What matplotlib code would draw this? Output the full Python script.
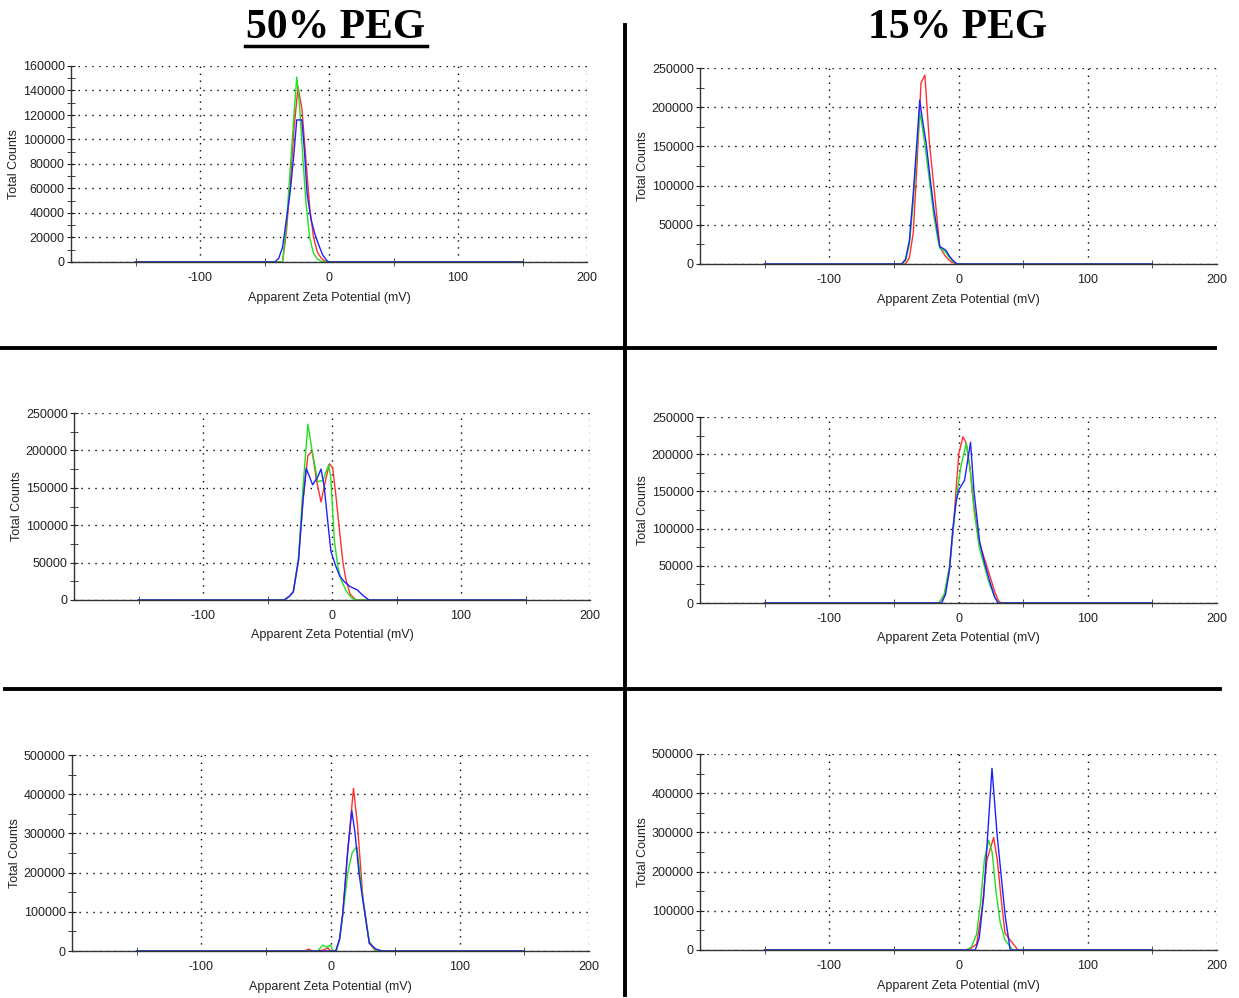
import matplotlib
matplotlib.use("Agg")
import matplotlib.pyplot as plt
from matplotlib.lines import Line2D
from matplotlib.ticker import MultipleLocator, FixedLocator

W, H = 1239, 998

# ---------------- data ----------------
# row 1, 50% PEG
a_red_x = [-150, -36, -33, -30, -27, -24, -21, -18, -15, -12, -9, -6, -3, -1, 150]
a_red_y = [0, 0, 25000, 65000, 110000, 143000, 125000, 85000, 45000, 20000, 8000, 3000, 500, 0, 0]
a_green_x = [-150, -36, -33, -30, -27.5, -25, -23, -21, -18, -15, -12, -9, -6, -3, 150]
a_green_y = [0, 0, 30000, 77000, 115000, 151000, 130000, 97000, 50000, 20000, 7000, 2500, 500, 0, 0]
a_blue_x = [-150, -42, -39, -36, -33, -30, -27.5, -25, -21, -19, -17, -14, -11, -8, -5, -2, 0, 150]
a_blue_y = [0, 0, 3000, 12000, 35000, 58000, 85000, 116000, 116000, 90000, 56000, 35000, 23000, 14000, 6000, 1500, 0, 0]

# row 1, 15% PEG
b_red_x = [-150, -41, -38, -35, -32, -29, -26, -22.5, -18.5, -14.5, -11, -8, -5, -1, 150]
b_red_y = [0, 0, 8000, 40000, 130000, 231000, 241000, 154000, 90000, 22000, 12000, 6000, 2000, 0, 0]
b_green_x = [-150, -44, -41, -38, -35, -32, -30, -28, -25, -22, -19, -16, -14.5, -12, -9.5, -7, -4, -1, 150]
b_green_y = [0, 0, 4000, 25000, 80000, 150000, 193000, 175000, 140000, 100000, 60000, 32000, 20000, 18000, 14000, 8000, 3000, 0, 0]
b_blue_x = [-150, -44, -41, -38, -35, -32, -30, -28, -25, -22, -19, -16, -14.5, -12, -9.5, -7, -4, -1, 150]
b_blue_y = [0, 0, 6000, 30000, 90000, 160000, 209000, 185000, 154000, 110000, 70000, 38000, 22000, 20000, 17000, 10000, 4000, 0, 0]

# row 2, 50% PEG
c_red_x = [-150, -37, -33, -30, -26, -22.5, -18.7, -15.4, -12, -8.5, -5, -2, 0.5, 3, 6, 8.5, 10.8, 14, 18.5, 150]
c_red_y = [0, 0, 5000, 11000, 53000, 133000, 193000, 199000, 160000, 131000, 160000, 182000, 177000, 140000, 90000, 50000, 27000, 8000, 0, 0]
c_green_x = [-150, -37, -33, -30, -26, -22.5, -18.7, -15, -11, -7, -2.6, -1, 1.8, 4.5, 7, 11, 15, 19, 150]
c_green_y = [0, 0, 5000, 11000, 55000, 150000, 235000, 195000, 158000, 160000, 180500, 165000, 80000, 45000, 27000, 12000, 3000, 0, 0]
c_blue_x = [-150, -37, -33, -30, -26, -22.5, -20, -15, -11, -8.5, -6, -3, -0.8, 3, 6, 9.5, 14, 19.7, 24, 28.7, 150]
c_blue_y = [0, 0, 5000, 11000, 53000, 133000, 176000, 154000, 165000, 175000, 151000, 100000, 64600, 45000, 32000, 24500, 18000, 13400, 6000, 0, 0]

# row 2, 15% PEG
d_red_x = [-150, -15, -11, -7, -4, -2, 0.3, 3.4, 6, 9, 12, 16.3, 20, 24, 28, 31, 33, 150]
d_red_y = [0, 0, 10000, 45000, 100000, 150000, 201000, 223500, 215000, 180000, 130000, 80000, 60000, 38000, 15000, 3000, 0, 0]
d_green_x = [-150, -15, -11, -7, -4, -1, 2, 6, 9, 12, 16, 20, 24, 28, 31, 150]
d_green_y = [0, 0, 12000, 50000, 100000, 150000, 185000, 214600, 180000, 125000, 75000, 50000, 25000, 8000, 0, 0]
d_blue_x = [-150, -13, -10, -7, -4.4, -2, 0.2, 4.7, 9.3, 12, 16.3, 20, 24, 28, 30.5, 150]
d_blue_y = [0, 0, 12000, 44000, 100000, 135000, 152000, 165000, 216000, 150000, 83000, 55000, 30000, 8000, 0, 0]

# row 3, 50% PEG
e_red_x = [-150, -20, -17, -14, -10, -5, -2, 0, 4.4, 7, 9.5, 13.4, 17.8, 21, 25, 30, 35, 150]
e_red_y = [0, 0, 5000, 0, 0, 3000, 8000, 0, 0, 30000, 96000, 258000, 415000, 317000, 138000, 20000, 0, 0]
e_green_x = [-150, -10, -6, -3, 0, 2, 4.4, 7, 9.5, 13.4, 16.8, 20.4, 23, 26, 30, 35, 150]
e_green_y = [0, 0, 15000, 10000, 15000, 0, 0, 30000, 90000, 200000, 251000, 266000, 190000, 110000, 25000, 0, 0]
e_blue_x = [-150, 4, 7, 9.5, 13.4, 16.5, 19, 22, 25, 30, 35, 40, 150]
e_blue_y = [0, 0, 30000, 96000, 258000, 358000, 300000, 200000, 130000, 20000, 5000, 0, 0]

# row 3, 15% PEG
f_red_x = [-150, 5, 10, 14, 18, 22, 27.2, 30, 33, 36, 40, 46, 150]
f_red_y = [0, 0, 5000, 15000, 100000, 230000, 287000, 230000, 130000, 43000, 25000, 0, 0]
f_green_x = [-150, 6.7, 10, 14, 17, 20, 23.3, 26, 29, 32.3, 36, 42, 150]
f_green_y = [0, 0, 8000, 40000, 119000, 230000, 280000, 250000, 150000, 69000, 25000, 0, 0]
f_blue_x = [-150, 13, 16, 19.5, 22.5, 25.9, 29.8, 33.6, 36.2, 40, 150]
f_blue_y = [0, 0, 30000, 136000, 290000, 463500, 297000, 170000, 85000, 0, 0]

panels = [
    # (left, top, right, bottom) in px, ymax, ystep, series
    ((71, 66, 587, 262), 160000, 20000,
     [(a_red_x, a_red_y), (a_green_x, a_green_y), (a_blue_x, a_blue_y)]),
    ((700, 68, 1217, 264), 250000, 50000,
     [(b_red_x, b_red_y), (b_green_x, b_green_y), (b_blue_x, b_blue_y)]),
    ((74, 413, 590, 600), 250000, 50000,
     [(c_red_x, c_red_y), (c_green_x, c_green_y), (c_blue_x, c_blue_y)]),
    ((700, 417, 1217, 603), 250000, 50000,
     [(d_red_x, d_red_y), (d_green_x, d_green_y), (d_blue_x, d_blue_y)]),
    ((72, 755, 589, 951), 500000, 100000,
     [(e_red_x, e_red_y), (e_green_x, e_green_y), (e_blue_x, e_blue_y)]),
    ((700, 754, 1217, 950), 500000, 100000,
     [(f_red_x, f_red_y), (f_green_x, f_green_y), (f_blue_x, f_blue_y)]),
]
colors = ["#ff3030", "#20e020", "#2020ff"]

plt.rcParams['font.family'] = ['Liberation Sans', 'DejaVu Sans']
plt.rcParams['axes.unicode_minus'] = False
fig = plt.figure(figsize=(W / 100, H / 100), dpi=100)

for (l, t, r, b), ymax, ystep, series in panels:
    ax = fig.add_axes([l / W, 1 - b / H, (r - l) / W, (b - t) / H])
    for (xs, ys), c in zip(series, colors):
        ax.plot(xs, ys, color=c, lw=1.0)
    ax.set_xlim(-200, 200)
    ax.set_ylim(0, ymax)
    ax.xaxis.set_major_locator(FixedLocator([-100, 0, 100, 200]))
    ax.xaxis.set_minor_locator(FixedLocator([-150, -50, 50, 150]))
    ax.yaxis.set_major_locator(MultipleLocator(ystep))
    ax.yaxis.set_minor_locator(MultipleLocator(ystep / 2))
    for s in ["top", "right"]:
        ax.spines[s].set_visible(False)
    for s in ["left", "bottom"]:
        ax.spines[s].set_color("#333333")
        ax.spines[s].set_linewidth(1.0)
    ax.grid(True, which="major", color="black", lw=1.0, linestyle=(0, (1, 4)))
    ax.set_axisbelow(True)
    ax.tick_params(axis="x", which="major", length=0, pad=7, labelsize=9, colors="#222222")
    ax.tick_params(axis="x", which="minor", direction="inout", length=6, color="#333333")
    ax.tick_params(axis="y", which="both", direction="inout", length=6, pad=1.5,
                   labelsize=9, colors="#222222")
    ax.set_xlabel("Apparent Zeta Potential (mV)", fontsize=9, color="#222222")
    ax.set_ylabel("Total Counts", fontsize=9, color="#222222")
    ax.xaxis.set_label_coords(0.5, -0.155)
    ax.yaxis.set_label_coords(-0.098, 0.5)

# divider lines
def fig_line(x0, y0, x1, y1, lw=2.8):
    fig.add_artist(Line2D([x0 / W, x1 / W], [1 - y0 / H, 1 - y1 / H],
                          color="black", lw=lw, transform=fig.transFigure))

fig_line(625, 25, 625, 995)
fig_line(0, 348, 1215, 348)
fig_line(5, 689, 1220, 689)

# headers
fig.text(336 / W, 1 - 28 / H, "50% PEG", family="Liberation Serif", weight="bold",
         fontsize=30, ha="center", va="center")
fig.text(958 / W, 1 - 28 / H, "15% PEG", family="Liberation Serif", weight="bold",
         fontsize=30, ha="center", va="center")
fig_line(245, 46, 427, 46, lw=2.5)

fig.savefig("out.png", dpi=100)
